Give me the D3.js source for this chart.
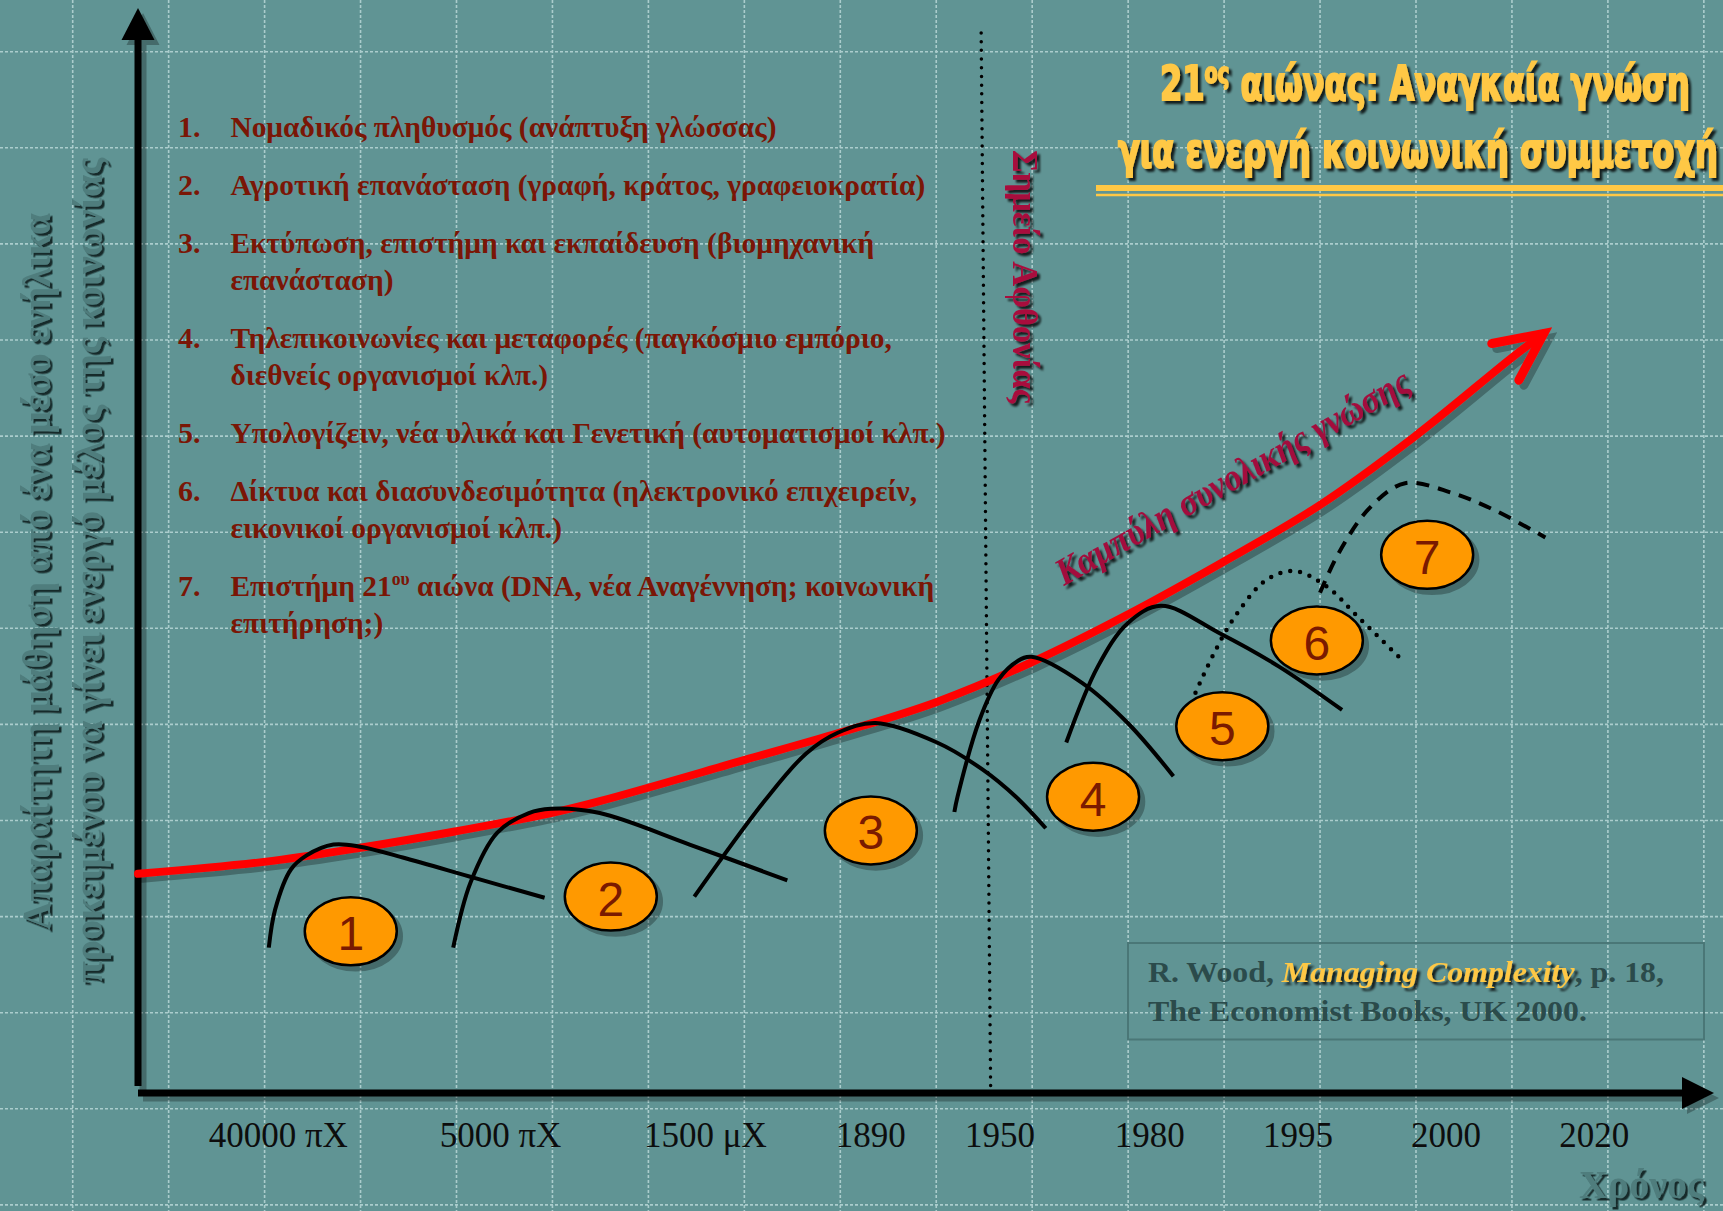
<!DOCTYPE html>
<html lang="el">
<head>
<meta charset="UTF-8">
<title>Καμπύλη συνολικής γνώσης</title>
<script src="https://d3js.org/d3.v7.min.js"></script>
<style>
    body {
        margin: 0;
        background: #609494;
        overflow: hidden;
    }
    svg { display: block; }
</style>
</head>
<body>
<script>
    // ---- data (axis units 0-100 on both axes) ----
    const tickLabels = ["40000 πX", "5000 πX", "1500 μX", "1890", "1950", "1980", "1995", "2000", "2020"];
    const tickAt = [8.9, 23.0, 36.0, 46.5, 54.7, 64.2, 73.6, 83.0, 92.4];

    // total knowledge curve
    const knowledgeCurve = [[0, 20.2], [8.0, 21.3], [14.1, 22.6], [20.1, 24.1], [26.2, 25.8], [29.3, 26.9],
        [38.5, 30.7], [44.5, 33.2], [50.6, 36.0], [56.7, 39.7], [62.8, 44.1], [68.8, 48.9],
        [74.9, 54.1], [81.0, 60.5], [87.2, 67.8], [89.2, 70.0]];

    // the seven waves
    const wave1 = [[8.3, 13.4], [8.7, 16.9], [9.7, 20.6], [10.7, 21.9], [12.4, 22.9], [14.1, 22.7], [16.8, 21.7], [21.4, 19.8], [25.8, 18.0]];
    const wave2 = [[20.0, 13.4], [21.1, 19.4], [22.8, 24.0], [24.8, 25.8], [26.2, 26.2], [29.3, 25.8], [35.0, 22.9], [41.2, 19.6]];
    const wave3 = [[35.3, 18.1], [39.8, 27.0], [42.4, 31.3], [44.4, 33.2], [46.8, 34.1], [50.7, 32.3], [53.6, 29.8], [55.7, 27.3], [57.6, 24.4]];
    const wave4 = [[51.8, 25.9], [52.0, 27.3], [53.4, 34.4], [54.6, 38.1], [55.8, 39.8], [56.7, 40.2], [59.9, 37.8], [62.8, 34.1], [65.7, 29.2]];
    const wave5 = [[58.9, 32.3], [60.9, 39.3], [62.8, 43.3], [64.9, 44.9], [68.6, 42.4], [72.4, 39.3], [76.4, 35.3]];
    const wave6 = [[67.1, 36.9], [68.3, 40.6], [69.6, 43.9], [71.6, 47.3], [73.4, 48.1], [75.4, 46.7], [77.4, 43.9], [80.0, 40.2]];
    const wave7 = [[75.0, 46.1], [76.2, 49.8], [78.2, 54.0], [80.4, 56.2], [83.4, 55.3], [86.1, 53.7], [89.3, 51.2]];

    const waveLabels = ["1", "2", "3", "4", "5", "6", "7"];
    const waveCenters = [[13.5, 14.9], [30.0, 18.1], [46.5, 24.2], [60.6, 27.3], [68.8, 33.8], [74.8, 41.7], [81.8, 49.6]];

    // "point of abundance" marker line
    const abundanceLine = [[53.5, 97.7], [54.1, 0.6]];

    const listItems = [
        ["Νομαδικός πληθυσμός (ανάπτυξη γλώσσας)"],
        ["Αγροτική επανάσταση (γραφή, κράτος, γραφειοκρατία)"],
        ["Εκτύπωση, επιστήμη και εκπαίδευση (βιομηχανική", "επανάσταση)"],
        ["Τηλεπικοινωνίες και μεταφορές (παγκόσμιο εμπόριο,", "διεθνείς οργανισμοί κλπ.)"],
        ["Υπολογίζειν, νέα υλικά και Γενετική (αυτοματισμοί κλπ.)"],
        ["Δίκτυα και διασυνδεσιμότητα (ηλεκτρονικό επιχειρείν,", "εικονικοί οργανισμοί κλπ.)"],
        ["Επιστήμη 21^ου^ αιώνα (DNA, νέα Αναγέννηση; κοινωνική", "επιτήρηση;)"]
    ];

    const yLabel = ["Απαραίτητη μάθηση από ένα μέσο ενήλικα", "προκειμένου να γίνει ενεργό μέλος της κοινωνίας"];
    const xLabel = "Χρόνος";
    const curveLabel = "Καμπύλη συνολικής γνώσης";
    const abundanceLabel = "Σημείο Αφθονίας";
    const titleLines = ["21^ος^ αιώνας: Αναγκαία γνώση", "για ενεργή κοινωνική συμμετοχή"];
    const citation = ["R. Wood,\u00a0", "Managing Complexity", ", p. 18,", "The Economist Books, UK 2000."];

    // ---- setup ----
    const W = 1723, H = 1211;
    const serif = "'Liberation Serif', 'Times New Roman', serif";
    const sans = "'Liberation Sans', Arial, sans-serif";
    const narrow = "'Liberation Sans Narrow', 'DejaVu Sans Condensed', 'Liberation Sans', sans-serif";

    const svg = d3.select("body").append("svg")
        .attr("width", W)
        .attr("height", H);

    const defs = svg.append("defs");
    function shadowFilter(id, dx, dy, blur, color, op) {
        defs.append("filter").attr("id", id)
            .attr("filterUnits", "userSpaceOnUse")
            .attr("x", -W).attr("y", -H).attr("width", 3 * W).attr("height", 3 * H)
            .append("feDropShadow")
            .attr("dx", dx).attr("dy", dy).attr("stdDeviation", blur)
            .attr("flood-color", color).attr("flood-opacity", op);
    }
    shadowFilter("shade", 5, 5, 0.4, "#000", 0.28);
    shadowFilter("tshade", 3, 3, 1.2, "#000", 0.8);
    shadowFilter("emboss", 2.5, 2.5, 0.6, "#0b1d1d", 0.9);

    const x = d3.scaleLinear().domain([0, 100]).range([138, 1714]);
    const y = d3.scaleLinear().domain([0, 100]).range([1093, 8]);
    const line = d3.line()
        .x(d => x(d[0]))
        .y(d => y(d[1]))
        .curve(d3.curveCatmullRom.alpha(0.5));

    // squeeze a text horizontally so it spans the given width
    function fitWidth(sel, x0, width) {
        const w = sel.node().getBBox().width;
        const s = width / w;
        sel.attr("transform", `translate(${x0},0) scale(${s},1) translate(${-x0},0)`);
    }

    // write "a^sup^b" style strings into a text element
    function richText(t, str, size) {
        str.split("^").forEach((part, k) => {
            if (!part) return;
            if (k % 2 === 1) {
                t.append("tspan").attr("font-size", size * 0.6).attr("dy", -size * 0.36).text(part);
            } else {
                t.append("tspan").attr("dy", k > 0 ? size * 0.36 : 0).text(part);
            }
        });
    }

    // ---- background grid ----
    const grid = svg.append("g")
        .attr("stroke", "#b9d8d8")
        .attr("stroke-width", 1.6)
        .attr("stroke-dasharray", "3 2")
        .attr("opacity", 0.85);
    d3.range(72.7, W, 95.95).forEach(gx => {
        grid.append("line").attr("x1", gx).attr("x2", gx).attr("y1", 0).attr("y2", H);
    });
    d3.range(51.7, H, 96.1).forEach(gy => {
        grid.append("line").attr("x1", 0).attr("x2", W).attr("y1", gy).attr("y2", gy);
    });

    // ---- axes ----
    const axes = svg.append("g").attr("filter", "url(#shade)");
    axes.append("line")
        .attr("x1", x(0)).attr("x2", x(0))
        .attr("y1", y(0) - 7).attr("y2", y(100) + 30)
        .attr("stroke", "#000").attr("stroke-width", 7);
    axes.append("path")
        .attr("d", `M${x(0)},${y(100)} L${x(0) - 16.5},${y(100) + 32} L${x(0) + 16.5},${y(100) + 32}Z`)
        .attr("fill", "#000");
    axes.append("line")
        .attr("x1", x(0)).attr("x2", x(100) - 30)
        .attr("y1", y(0)).attr("y2", y(0))
        .attr("stroke", "#000").attr("stroke-width", 7);
    axes.append("path")
        .attr("d", `M${x(100)},${y(0)} L${x(100) - 32},${y(0) - 16} L${x(100) - 32},${y(0) + 16}Z`)
        .attr("fill", "#000");

    svg.append("g").selectAll("text")
        .data(tickLabels)
        .join("text")
        .attr("x", (d, i) => x(tickAt[i]))
        .attr("y", 1147)
        .attr("text-anchor", "middle")
        .attr("font-family", serif)
        .attr("font-size", 35)
        .attr("fill", "#0d0d0d")
        .text(d => d);

    // axis titles
    const yl = svg.append("g")
        .attr("filter", "url(#emboss)")
        .attr("font-family", serif)
        .attr("font-weight", "bold")
        .attr("font-size", 40)
        .attr("fill", "#4f7d7d");
    yl.append("text")
        .attr("transform", "translate(50,930) rotate(-90)")
        .attr("textLength", 717).attr("lengthAdjust", "spacingAndGlyphs")
        .text(yLabel[0]);
    yl.append("text")
        .attr("transform", "translate(102,983) rotate(-90)")
        .attr("textLength", 825).attr("lengthAdjust", "spacingAndGlyphs")
        .text(yLabel[1]);

    svg.append("g").attr("filter", "url(#emboss)")
        .append("text")
        .attr("x", 1704).attr("y", 1198)
        .attr("text-anchor", "end")
        .attr("font-family", serif)
        .attr("font-weight", "bold")
        .attr("font-size", 40)
        .attr("fill", "#4f7d7d")
        .text(xLabel);

    // ---- point of abundance ----
    svg.append("line")
        .attr("x1", x(abundanceLine[0][0])).attr("y1", y(abundanceLine[0][1]))
        .attr("x2", x(abundanceLine[1][0])).attr("y2", y(abundanceLine[1][1]))
        .attr("stroke", "#000")
        .attr("stroke-width", 3.5)
        .attr("stroke-linecap", "round")
        .attr("stroke-dasharray", "0 8.7");

    svg.append("g").attr("filter", "url(#tshade)")
        .append("text")
        .attr("transform", "translate(1013,150) rotate(90)")
        .attr("font-family", serif)
        .attr("font-weight", "bold")
        .attr("font-size", 36)
        .attr("fill", "#a8103e")
        .attr("textLength", 253).attr("lengthAdjust", "spacingAndGlyphs")
        .text(abundanceLabel);

    // ---- list of eras ----
    const list = svg.append("g")
        .attr("font-family", serif)
        .attr("font-weight", "bold")
        .attr("font-size", 30)
        .attr("fill", "#7a1606");
    const listBody = list.append("g");
    let base = 137;
    let widest = null;
    listItems.forEach((lines, i) => {
        list.append("text").attr("x", 178).attr("y", base).text(`${i + 1}.`);
        lines.forEach((ln, j) => {
            const t = listBody.append("text").attr("x", 230.4).attr("y", base + j * 37);
            richText(t, ln, 30);
            if (i === 4) widest = t;
        });
        base += 58 + 37 * (lines.length - 1);
    });
    fitWidth(listBody, 230.4, 715.6 * listBody.node().getBBox().width / widest.node().getBBox().width);

    // ---- title ----
    const title = svg.append("g")
        .attr("filter", "url(#tshade)")
        .attr("font-family", narrow)
        .attr("font-weight", "bold")
        .attr("font-size", 48)
        .attr("fill", "#ffc845")
        .attr("stroke", "#ffc845")
        .attr("stroke-width", 2);
    const t1 = title.append("text").attr("x", 1160).attr("y", 100);
    richText(t1, titleLines[0], 48);
    fitWidth(t1, 1160, 530);
    const t2 = title.append("text").attr("x", 1118).attr("y", 167).text(titleLines[1]);
    fitWidth(t2, 1118, 600);

    svg.append("line").attr("x1", 1096).attr("x2", W).attr("y1", 188).attr("y2", 188)
        .attr("stroke", "#ffc845").attr("stroke-width", 6);
    svg.append("line").attr("x1", 1096).attr("x2", W).attr("y1", 195).attr("y2", 195)
        .attr("stroke", "#ffc845").attr("stroke-width", 2.5);

    // ---- knowledge curve ----
    defs.append("marker")
        .attr("id", "chevron")
        .attr("markerUnits", "userSpaceOnUse")
        .attr("orient", "auto")
        .attr("viewBox", "-60 -40 70 80")
        .attr("markerWidth", 70).attr("markerHeight", 80)
        .attr("refX", 0).attr("refY", 0)
        .append("path")
        .attr("d", "M-47.8,-22.8 L0,0 L-47.8,22.8")
        .attr("fill", "none")
        .attr("stroke", "#ff0000")
        .attr("stroke-width", 9)
        .attr("stroke-linecap", "round")
        .attr("stroke-linejoin", "miter");

    svg.append("path")
        .datum(knowledgeCurve)
        .attr("d", line)
        .attr("fill", "none")
        .attr("stroke", "#ff0000")
        .attr("stroke-width", 8)
        .attr("stroke-linecap", "round")
        .attr("marker-end", "url(#chevron)")
        .attr("filter", "url(#shade)");

    svg.append("g").attr("filter", "url(#tshade)")
        .append("text")
        .attr("transform", "translate(1064,586) rotate(-29.4)")
        .attr("font-family", serif)
        .attr("font-weight", "bold")
        .attr("font-style", "italic")
        .attr("font-size", 38)
        .attr("fill", "#a30d3d")
        .attr("textLength", 401).attr("lengthAdjust", "spacingAndGlyphs")
        .text(curveLabel);

    // ---- waves ----
    const waves = [wave1, wave2, wave3, wave4, wave5, wave6, wave7];
    svg.append("g").selectAll("path")
        .data(waves)
        .join("path")
        .attr("d", line)
        .attr("fill", "none")
        .attr("stroke", "#000")
        .attr("stroke-width", (d, i) => i === 5 ? 4.5 : 4)
        .attr("stroke-linecap", (d, i) => i === 5 ? "round" : "butt")
        .attr("stroke-dasharray", (d, i) => i === 5 ? "0 10" : i === 6 ? "13 9" : null);

    const badges = svg.append("g").selectAll("g")
        .data(waveCenters)
        .join("g")
        .attr("transform", d => `translate(${x(d[0])},${y(d[1])})`);
    badges.append("ellipse")
        .attr("rx", 46).attr("ry", 34)
        .attr("fill", "#ff9900")
        .attr("stroke", "#000")
        .attr("stroke-width", 2.5)
        .attr("filter", "url(#shade)");
    badges.append("text")
        .attr("text-anchor", "middle")
        .attr("dy", 19)
        .attr("font-family", sans)
        .attr("font-size", 48)
        .attr("fill", "#7a1a00")
        .text((d, i) => waveLabels[i]);

    // ---- citation ----
    svg.append("rect")
        .attr("x", 1128).attr("y", 943)
        .attr("width", 576).attr("height", 96.5)
        .attr("fill", "none")
        .attr("stroke", "#4a7777")
        .attr("stroke-width", 2);

    const cite = svg.append("g")
        .attr("font-family", serif)
        .attr("font-weight", "bold")
        .attr("font-size", 30)
        .attr("fill", "#2b4b4b");
    const c1 = cite.append("g");
    const ca = c1.append("text").attr("x", 1148).attr("y", 982).text(citation[0]);
    const caw = ca.node().getComputedTextLength();
    const cb = c1.append("g").attr("filter", "url(#tshade)")
        .append("text").attr("x", 1148 + caw).attr("y", 982)
        .attr("font-style", "italic").attr("fill", "#ffc845")
        .text(citation[1]);
    const cbw = cb.node().getComputedTextLength();
    c1.append("text").attr("x", 1148 + caw + cbw).attr("y", 982).text(citation[2]);
    fitWidth(c1, 1148, 516);
    const c2 = cite.append("text").attr("x", 1148).attr("y", 1021).text(citation[3]);
    fitWidth(c2, 1148, 439);
</script>
</body>
</html>
